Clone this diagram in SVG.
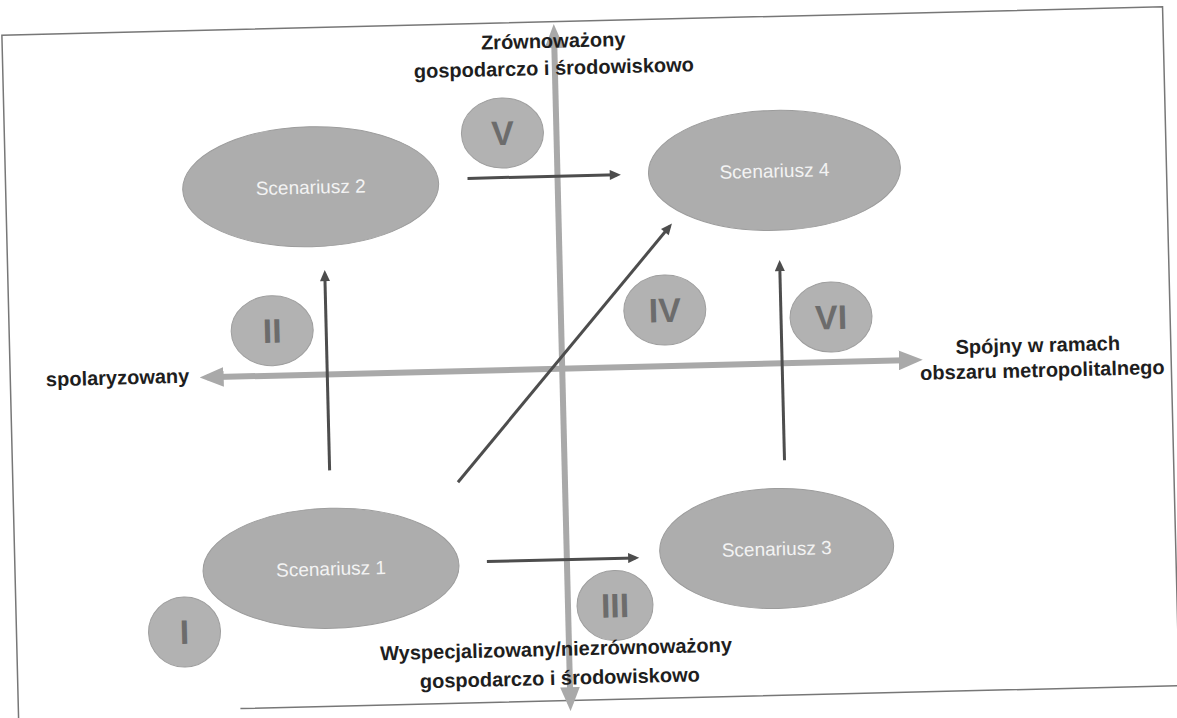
<svg xmlns="http://www.w3.org/2000/svg" width="1177" height="718" viewBox="0 0 1177 718">
  <style>
    .scen { fill: #adadad; stroke: #9c9c9c; stroke-width: 1; }
    .num { fill: #b2b2b2; stroke: #9e9e9e; stroke-width: 1; }
    .scen-t { font-family: "Liberation Sans", Arial, sans-serif; font-size: 19px; fill: #f3f3f3; text-anchor: middle; }
    .num-t { font-family: "Liberation Sans", Arial, sans-serif; font-size: 34px; font-weight: bold; fill: #6c6c6c; text-anchor: middle; }
    .lbl { font-family: "Liberation Sans", Arial, sans-serif; font-size: 20px; font-weight: bold; fill: #1e1e1e; text-anchor: middle; }
    .axis { stroke: #a9a9a9; stroke-width: 6; fill: none; }
    .arr { stroke: #4d4d4d; stroke-width: 3; fill: none; }
  </style>
  <defs>
    <marker id="axhead" markerUnits="userSpaceOnUse" markerWidth="24" markerHeight="20" refX="15" refY="9" orient="auto-start-reverse" viewBox="0 0 22 18">
      <path d="M0,0 L22,9 L0,18 Z" fill="#a9a9a9"/>
    </marker>
    <marker id="head" markerUnits="userSpaceOnUse" markerWidth="12" markerHeight="10" refX="6.5" refY="4.5" orient="auto" viewBox="0 0 10 9">
      <path d="M0,0 L10,4.5 L0,9 Z" fill="#4d4d4d"/>
    </marker>
  </defs>
  <rect width="1177" height="718" fill="#ffffff"/>
  <g transform="rotate(-1.4 588 360)">
    <path id="frame" d="M232,700 L1171,700 L1171,21 L10,21 L10,704" fill="none" stroke="#777777" stroke-width="1.5"/>
    <g id="axes">
      <line class="axis" x1="207" y1="368" x2="915" y2="368" marker-start="url(#axhead)" marker-end="url(#axhead)"/>
      <line class="axis" x1="562" y1="31" x2="562" y2="703" marker-start="url(#axhead)" marker-end="url(#axhead)"/>
    </g>
    <g id="scenariusz1"><ellipse class="scen" cx="326" cy="562" rx="128" ry="60"/><text class="scen-t" x="326" y="569">Scenariusz 1</text></g>
    <g id="scenariusz2"><ellipse class="scen" cx="315" cy="180" rx="128" ry="60"/><text class="scen-t" x="315" y="187">Scenariusz 2</text></g>
    <g id="scenariusz3"><ellipse class="scen" cx="772" cy="553" rx="117" ry="60"/><text class="scen-t" x="772" y="560">Scenariusz 3</text></g>
    <g id="scenariusz4"><ellipse class="scen" cx="779" cy="175" rx="126" ry="60"/><text class="scen-t" x="779" y="182">Scenariusz 4</text></g>
    <g id="numI"><ellipse class="num" cx="178" cy="622" rx="36" ry="35"/><text class="num-t" x="178" y="634">I</text></g>
    <g id="numII"><ellipse class="num" cx="273" cy="323" rx="41" ry="35"/><text class="num-t" x="273" y="335">II</text></g>
    <g id="numIII"><ellipse class="num" cx="609" cy="606" rx="38" ry="35"/><text class="num-t" x="609" y="618">III</text></g>
    <g id="numIV"><ellipse class="num" cx="666" cy="312" rx="41" ry="35"/><text class="num-t" x="666" y="324">IV</text></g>
    <g id="numV"><ellipse class="num" cx="508" cy="131" rx="41" ry="35"/><text class="num-t" x="508" y="143">V</text></g>
    <g id="numVI"><ellipse class="num" cx="832" cy="323" rx="41" ry="35"/><text class="num-t" x="832" y="335">VI</text></g>
    <g id="connectors">
      <line class="arr" x1="472" y1="175.5" x2="621.5" y2="175.5" marker-end="url(#head)"/>
      <line class="arr" x1="327" y1="464" x2="327" y2="267.5" marker-end="url(#head)"/>
      <line class="arr" x1="455" y1="479" x2="672.7" y2="228.6" marker-end="url(#head)"/>
      <line class="arr" x1="782" y1="465" x2="782" y2="268.5" marker-end="url(#head)"/>
      <line class="arr" x1="482" y1="559" x2="630.5" y2="559" marker-end="url(#head)"/>
    </g>
    <g id="label-top">
      <text class="lbl" x="561" y="47">Zrównoważony</text>
      <text class="lbl" x="561" y="74">gospodarczo i środowiskowo</text>
    </g>
    <g id="label-left">
      <text class="lbl" x="189" y="373" style="text-anchor:end">spolaryzowany</text>
    </g>
    <g id="label-right">
      <text class="lbl" x="1038" y="363">Spójny w ramach</text>
      <text class="lbl" x="1042" y="388">obszaru metropolitalnego</text>
    </g>
    <g id="label-bottom">
      <text class="lbl" x="549" y="655">Wyspecjalizowany/niezrównoważony</text>
      <text class="lbl" x="552" y="684">gospodarczo i środowiskowo</text>
    </g>
  </g>
</svg>
